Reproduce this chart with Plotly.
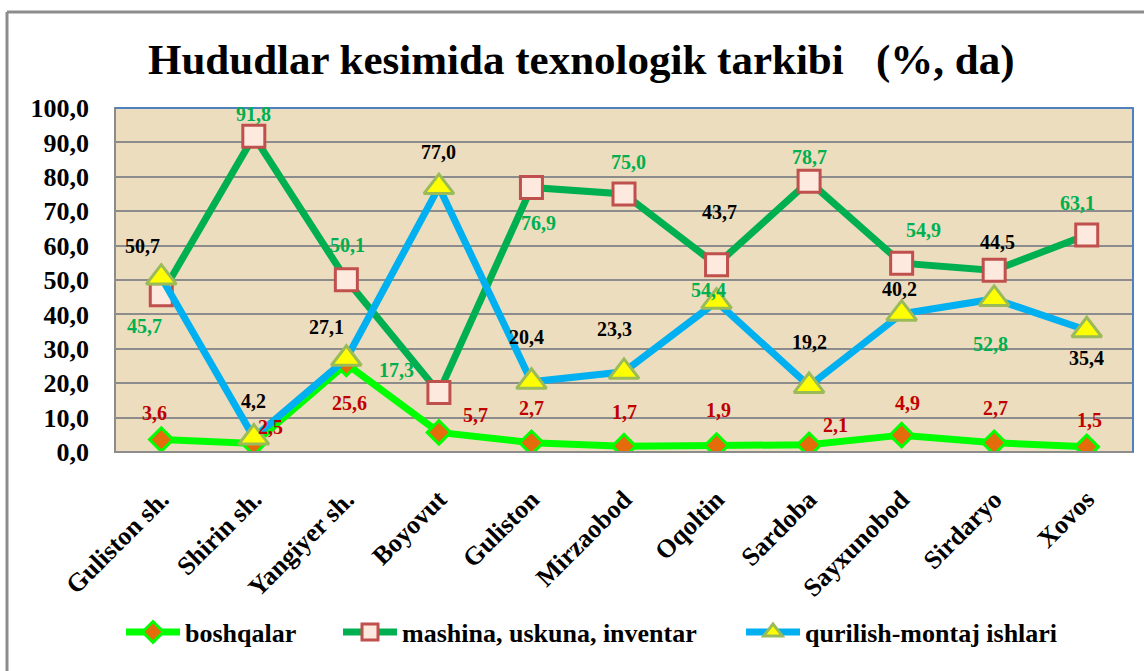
import plotly.graph_objects as go

categories = ["Guliston sh.", "Shirin sh.", "Yangiyer sh.", "Boyovut", "Guliston",
              "Mirzaobod", "Oqoltin", "Sardoba", "Sayxunobod", "Sirdaryo", "Xovos"]
boshqalar = [3.6, 2.5, 25.6, 5.7, 2.7, 1.7, 1.9, 2.1, 4.9, 2.7, 1.5]
mashina = [45.7, 91.8, 50.1, 17.3, 76.9, 75.0, 54.4, 78.7, 54.9, 52.8, 63.1]
qurilish = [50.7, 4.2, 27.1, 77.0, 20.4, 23.3, 43.7, 19.2, 40.2, 44.5, 35.4]
y_ticks = [0, 10, 20, 30, 40, 50, 60, 70, 80, 90, 100]

# label offsets in px (dx right, dy down) relative to each marker
off_b = [(-7, -27), (17, -16), (3, 39), (37, -17), (0, -35), (0, -34), (2, -35),
         (26, -20), (6, -32), (1, -35), (3, -27)]
off_m = [(-17, 31), (0, -22), (1, -35), (-42, -22), (7, 36), (4, -32), (-8, 25),
         (0, -24), (22, -33), (-4, 74), (-9, -32)]
off_q = [(-19, -32), (0, -37), (-20, -32), (0, -35), (-5, -45), (-10, -43), (3, -90),
         (0, -44), (-2, -25), (3, -57), (0, 28)]

SERIF = "Liberation Serif, Times New Roman, serif"
L, R, T, B = 115, 11, 108, 219
PW, PH = 1144 - L - R, 671 - T - B


def fmt(v):
    return f"{v:.1f}".replace(".", ",")


def px_x(px):
    return (px - L) / PW


def px_y(py):
    return (671 - B - py) / PH


def bfont(size, color="#000000"):
    return dict(family=SERIF, size=size, color=color, weight="bold")


fig = go.Figure()
fig.add_trace(go.Scatter(
    x=categories, y=boshqalar, name="boshqalar", mode="lines+markers",
    legend="legend",
    line=dict(color="#00FF00", width=7),
    marker=dict(symbol="diamond", size=18, color="#E46C0A",
                line=dict(color="#00FF00", width=3))))
fig.add_trace(go.Scatter(
    x=categories, y=mashina, name="mashina, uskuna, inventar", mode="lines+markers",
    legend="legend2",
    line=dict(color="#00B050", width=7),
    marker=dict(symbol="square", size=22, color="#FDE9DD",
                line=dict(color="#C0504D", width=3))))
fig.add_trace(go.Scatter(
    x=categories, y=qurilish, name="qurilish-montaj ishlari", mode="lines+markers",
    legend="legend3",
    line=dict(color="#00B0F0", width=7),
    marker=dict(symbol="triangle-up", size=26, color="#FFFF00",
                line=dict(color="#9BBB59", width=3))))

annotations = []
for vals, offs, col in [(boshqalar, off_b, "#C00000"),
                        (mashina, off_m, "#00B050"),
                        (qurilish, off_q, "#000000")]:
    for c, v, (dx, dy) in zip(categories, vals, offs):
        annotations.append(dict(
            x=c, y=v, xref="x", yref="y", text=fmt(v), showarrow=False,
            xshift=dx, yshift=-dy, font=bfont(20, col)))

annotations.append(dict(
    x=px_x(581), y=px_y(60), xref="paper", yref="paper", yanchor="middle", xanchor="center",
    text="Hududlar kesimida texnologik tarkibi\u00a0\u00a0\u00a0(%, da)",
    showarrow=False, font=bfont(43)))

shapes = [
    dict(type="rect", xref="paper", yref="paper", x0=0, x1=1, y0=0, y1=1,
         line=dict(color="#8C8C8C", width=2), layer="above"),
    dict(type="line", xref="paper", yref="paper", x0=0, x1=1, y0=1, y1=1,
         line=dict(color="#4F81BD", width=2), layer="above"),
    dict(type="line", xref="paper", yref="paper", x0=1, x1=1, y0=0, y1=1,
         line=dict(color="#4F81BD", width=2), layer="above"),
    # outer chart frame (top and left edges visible)
    dict(type="line", xref="paper", yref="paper", x0=px_x(7), x1=px_x(1144),
         y0=px_y(12), y1=px_y(12), line=dict(color="#8C8C8C", width=3)),
    dict(type="line", xref="paper", yref="paper", x0=px_x(7), x1=px_x(7),
         y0=px_y(12), y1=px_y(671), line=dict(color="#8C8C8C", width=3)),
]

leg_common = dict(orientation="h", xanchor="left", y=px_y(632), yanchor="middle",
                  font=bfont(26), itemwidth=54, bgcolor="rgba(0,0,0,0)")

fig.update_layout(
    width=1144, height=671,
    margin=dict(l=L, r=R, t=T, b=B),
    paper_bgcolor="#FFFFFF", plot_bgcolor="#ECDDBE",
    separators=", ",
    showlegend=True,
    legend=dict(x=px_x(121), **leg_common),
    legend2=dict(x=px_x(338), **leg_common),
    legend3=dict(x=px_x(741), **leg_common),
    annotations=annotations,
    shapes=shapes,
    xaxis=dict(type="category", tickangle=-45, showgrid=False, showline=False,
               ticks="", ticklabelstandoff=26, tickfont=bfont(26),
               range=[-0.5, len(categories) - 0.5]),
    yaxis=dict(range=[0, 100], tickvals=y_ticks, tickformat=".1f",
               showgrid=True, gridcolor="#8C8C8C", gridwidth=1.5,
               zeroline=False, showline=False, ticks="", ticklabelstandoff=25,
               tickfont=bfont(26)),
)

fig.write_html("out.html", config={"displayModeBar": False},
               post_script="document.body.style.margin='0px';")
